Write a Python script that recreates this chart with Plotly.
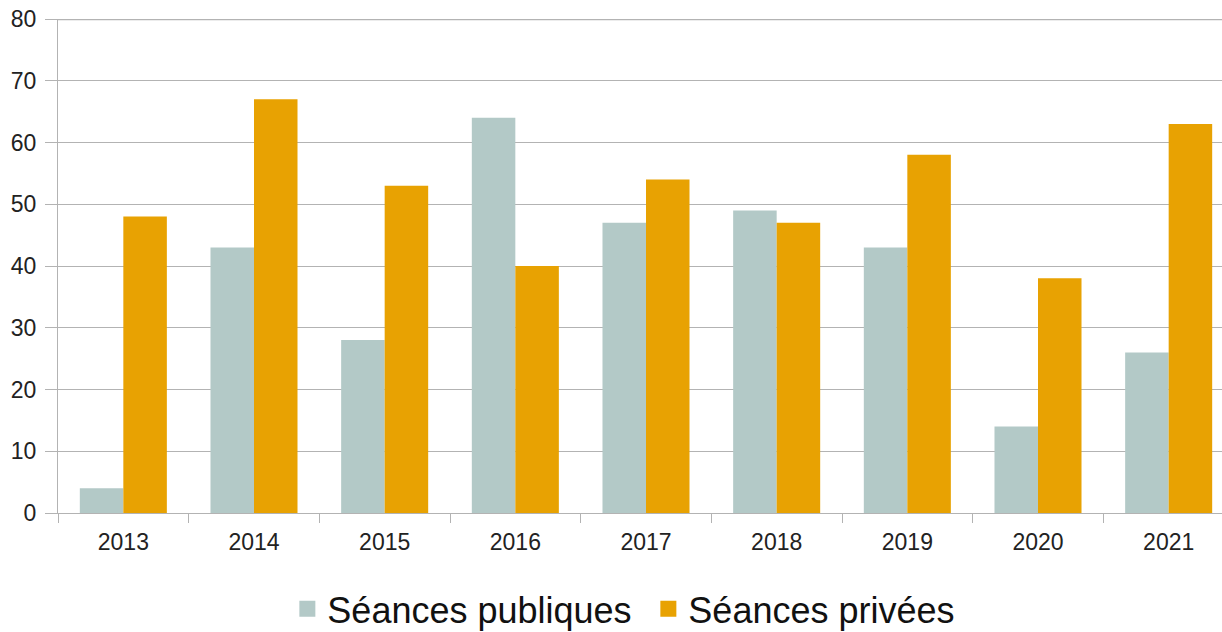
import plotly.graph_objects as go

years = ["2013", "2014", "2015", "2016", "2017", "2018", "2019", "2020", "2021"]
publiques = [4, 43, 28, 64, 47, 49, 43, 14, 26]
privees = [48, 67, 53, 40, 54, 47, 58, 38, 63]
names = ["Séances publiques", "Séances privées"]
colors = ["#b3c9c7", "#e8a202"]

fig = go.Figure()
for vals, nm, col in zip([publiques, privees], names, colors):
    fig.add_trace(go.Bar(x=years, y=vals, name=nm, showlegend=False,
                         marker=dict(color=col, line=dict(width=0))))
for nm, col in zip(names, colors):
    fig.add_trace(go.Scatter(x=[None], y=[None], mode="markers", name=nm,
                             marker=dict(symbol="square", size=19, color=col)))

# top border line of the plot area
fig.add_shape(type="line", xref="paper", yref="y", x0=0, x1=1, y0=80, y1=80,
              line=dict(color="#b3b3b3", width=2.5), layer="below")

fig.update_layout(
    width=1248, height=632,
    margin=dict(l=58, r=14, t=19, b=119, autoexpand=False),
    paper_bgcolor="white", plot_bgcolor="white",
    barmode="group", bargap=0.334, bargroupgap=0,
    font=dict(family="Liberation Sans, Arial, sans-serif", color="#222222"),
    showlegend=True,
    legend=dict(orientation="h", x=0.502, xanchor="center", y=-0.194, yanchor="middle",
                font=dict(size=36, color="#111111"), itemwidth=30, tracegroupgap=0,
                entrywidth=316, entrywidthmode="pixels"),
)
fig.update_xaxes(
    type="category", tickson="boundaries", ticks="outside", ticklen=9,
    tickcolor="#b3b3b3", showline=True, linecolor="#b3b3b3", linewidth=1,
    tickfont=dict(size=23, color="#222222"), showgrid=False, automargin=False,
    ticklabelstandoff=8,
)
fig.update_yaxes(
    range=[0, 80], dtick=10, ticks="outside", ticklen=12, tickcolor="#b3b3b3",
    showline=True, linecolor="#b3b3b3", linewidth=1,
    gridcolor="#b3b3b3", gridwidth=1, zeroline=False, automargin=False,
    tickfont=dict(size=23, color="#222222"), ticklabelstandoff=4,
    ticklabeloverflow="allow",
)
fig.write_html("out.html", config={"displayModeBar": False},
               post_script="document.body.style.margin='0px';")
